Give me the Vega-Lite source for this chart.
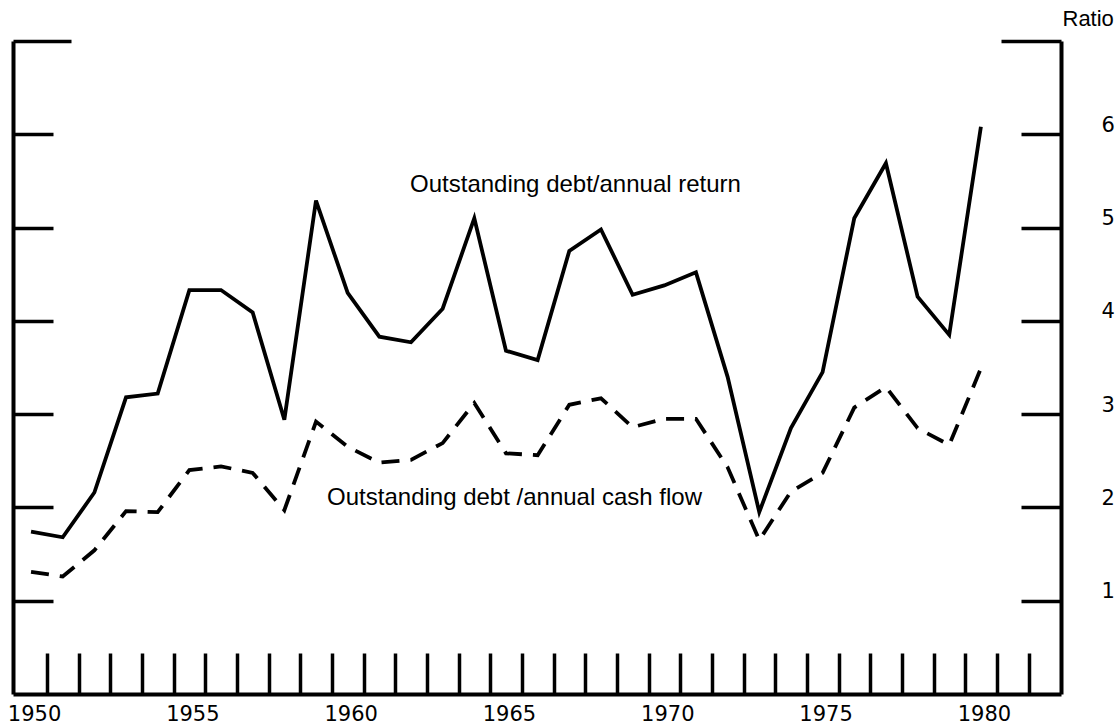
{
  "$schema": "https://vega.github.io/schema/vega-lite/v6.json",
  "width": 1048,
  "height": 653,
  "autosize": "none",
  "padding": {"left": 13, "top": 41, "right": 58, "bottom": 34},
  "background": "white",
  "config": {
    "view": {"stroke": null},
    "font": "Liberation Sans",
    "axis": {"domainColor": "black", "tickColor": "black", "labelColor": "black", "titleColor": "black", "grid": false}
  },
  "datasets": {
    "series": [
      {"year": 1950, "debt_return": 1.74, "debt_cashflow": 1.31},
      {"year": 1951, "debt_return": 1.68, "debt_cashflow": 1.26},
      {"year": 1952, "debt_return": 2.16, "debt_cashflow": 1.54},
      {"year": 1953, "debt_return": 3.18, "debt_cashflow": 1.96},
      {"year": 1954, "debt_return": 3.22, "debt_cashflow": 1.95},
      {"year": 1955, "debt_return": 4.33, "debt_cashflow": 2.40},
      {"year": 1956, "debt_return": 4.33, "debt_cashflow": 2.44},
      {"year": 1957, "debt_return": 4.09, "debt_cashflow": 2.37},
      {"year": 1958, "debt_return": 2.94, "debt_cashflow": 1.97},
      {"year": 1959, "debt_return": 5.29, "debt_cashflow": 2.92},
      {"year": 1960, "debt_return": 4.30, "debt_cashflow": 2.65},
      {"year": 1961, "debt_return": 3.83, "debt_cashflow": 2.48},
      {"year": 1962, "debt_return": 3.77, "debt_cashflow": 2.51},
      {"year": 1963, "debt_return": 4.13, "debt_cashflow": 2.69},
      {"year": 1964, "debt_return": 5.10, "debt_cashflow": 3.12},
      {"year": 1965, "debt_return": 3.68, "debt_cashflow": 2.58},
      {"year": 1966, "debt_return": 3.58, "debt_cashflow": 2.56},
      {"year": 1967, "debt_return": 4.75, "debt_cashflow": 3.10},
      {"year": 1968, "debt_return": 4.98, "debt_cashflow": 3.17},
      {"year": 1969, "debt_return": 4.28, "debt_cashflow": 2.86},
      {"year": 1970, "debt_return": 4.38, "debt_cashflow": 2.95},
      {"year": 1971, "debt_return": 4.52, "debt_cashflow": 2.95},
      {"year": 1972, "debt_return": 3.40, "debt_cashflow": 2.43},
      {"year": 1973, "debt_return": 1.95, "debt_cashflow": 1.65},
      {"year": 1974, "debt_return": 2.85, "debt_cashflow": 2.17},
      {"year": 1975, "debt_return": 3.45, "debt_cashflow": 2.37},
      {"year": 1976, "debt_return": 5.10, "debt_cashflow": 3.07},
      {"year": 1977, "debt_return": 5.69, "debt_cashflow": 3.29},
      {"year": 1978, "debt_return": 4.26, "debt_cashflow": 2.85},
      {"year": 1979, "debt_return": 3.85, "debt_cashflow": 2.67},
      {"year": 1980, "debt_return": 6.08, "debt_cashflow": 3.49}
    ],
    "notes": [
      {"year": 1961.97, "ratio": 5.38, "label": "Outstanding debt/annual return"},
      {"year": 1959.35, "ratio": 2.03, "label": "Outstanding debt /annual cash flow"}
    ]
  },
  "encoding": {
    "x": {
      "field": "year",
      "type": "quantitative",
      "scale": {"domain": [1949.43, 1982.53], "nice": false, "zero": false},
      "axis": {
        "orient": "bottom",
        "title": null,
        "values": [1950, 1951, 1952, 1953, 1954, 1955, 1956, 1957, 1958, 1959, 1960, 1961, 1962, 1963, 1964, 1965, 1966, 1967, 1968, 1969, 1970, 1971, 1972, 1973, 1974, 1975, 1976, 1977, 1978, 1979, 1980, 1981],
        "labelExpr": "datum.value % 5 == 0 ? datum.label : ''",
        "format": "d",
        "tickOffset": 16,
        "labelOffset": -13,
        "tickSize": -41,
        "tickWidth": 3.5,
        "domainWidth": 4,
        "labelFont": "DejaVu Sans",
        "labelFontSize": 21,
        "labelPadding": 50,
        "labelFlush": false,
        "labelOverlap": false,
        "labelBaseline": "top"
      }
    }
  },
  "layer": [
    {
      "data": {"name": "series"},
      "mark": {"type": "line", "color": "black", "strokeWidth": 3.8},
      "encoding": {
        "y": {
          "field": "debt_return",
          "type": "quantitative",
          "scale": {"domain": [0, 7], "nice": false, "zero": true},
          "axis": {
            "orient": "left",
            "title": null,
            "values": [1, 2, 3, 4, 5, 6, 7],
            "labels": false,
            "tickSize": {"condition": {"test": "datum.value == 7", "value": -58}, "value": -40},
            "tickWidth": 3.5,
            "domainWidth": 4
          }
        }
      }
    },
    {
      "data": {"name": "series"},
      "mark": {"type": "line", "color": "black", "strokeWidth": 3.8, "strokeDash": [18, 11]},
      "encoding": {
        "y": {
          "field": "debt_cashflow",
          "type": "quantitative",
          "scale": {"domain": [0, 7], "nice": false, "zero": true},
          "axis": {
            "orient": "right",
            "offset": 0,
            "title": "Ratio",
            "titleAngle": 0,
            "titleAlign": "left",
            "titleBaseline": "alphabetic",
            "titleX": 1,
            "titleY": -16,
            "titleFontSize": 22,
            "titleFontWeight": "normal",
            "values": [1, 2, 3, 4, 5, 6, 7],
            "labels": false,
            "tickSize": {"condition": {"test": "datum.value == 7", "value": -60}, "value": -40},
            "tickWidth": 3.5,
            "domainWidth": 4
          }
        }
      }
    },
    {
      "data": {"name": "notes"},
      "mark": {"type": "text", "align": "left", "baseline": "alphabetic", "fontSize": 24, "font": "Liberation Sans", "color": "black"},
      "encoding": {
        "y": {
          "field": "ratio",
          "type": "quantitative",
          "axis": {
            "orient": "right",
            "offset": 0,
            "title": null,
            "values": [1, 2, 3, 4, 5, 6],
            "domain": false,
            "ticks": false,
            "labelFont": "DejaVu Sans",
            "labelFontSize": 21,
            "labelPadding": 40,
            "labelOffset": -3,
            "labelAlign": "left",
            "labelBaseline": "alphabetic"
          }
        },
        "text": {"field": "label"}
      }
    }
  ],
  "resolve": {"axis": {"y": "independent"}}
}
